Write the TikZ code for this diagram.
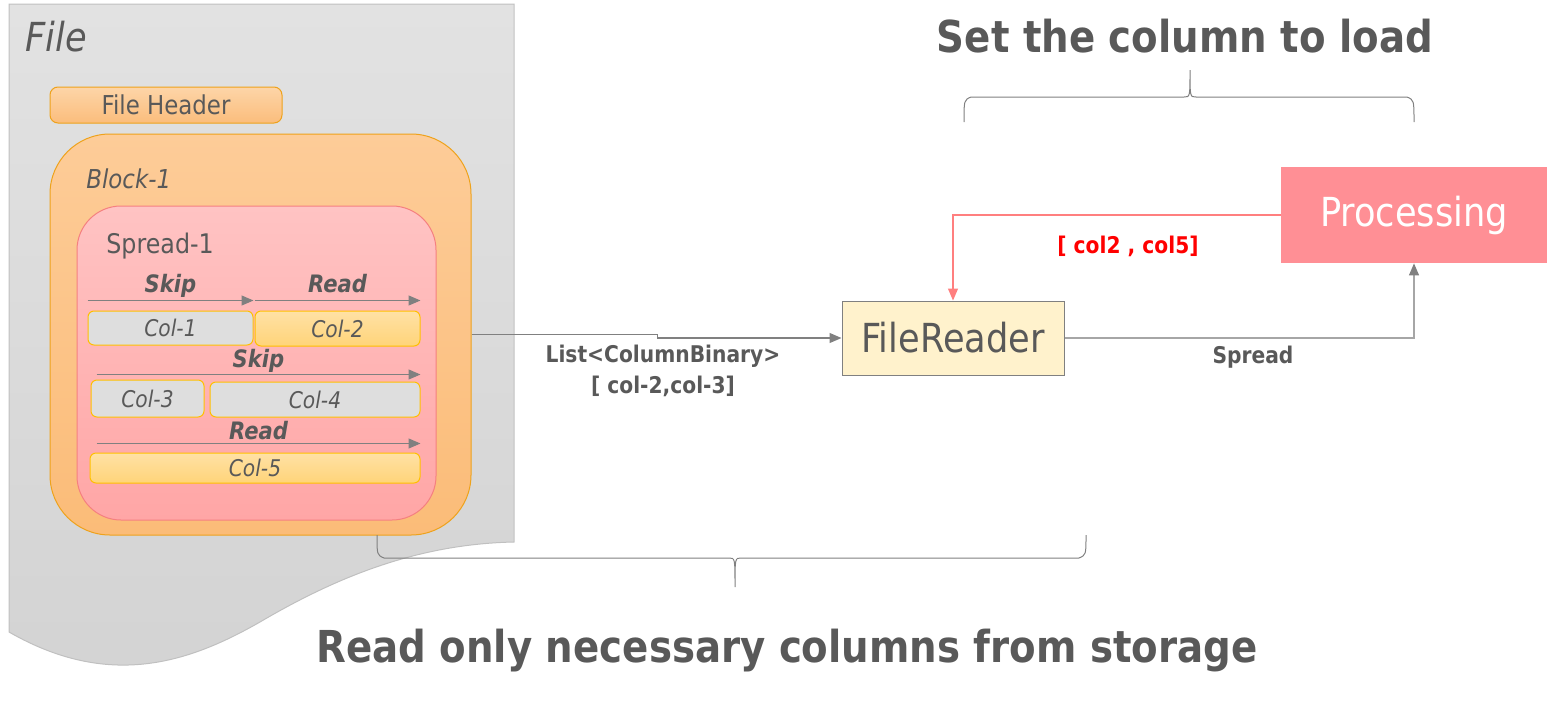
\documentclass[tikz,border=0pt]{standalone}
\usepackage{fontspec}
\setmainfont{DejaVu Sans}[FakeStretch=0.88]
\usetikzlibrary{arrows.meta, positioning}

\definecolor{txtgray}{HTML}{595959}
\definecolor{linegray}{HTML}{808080}
\definecolor{spreadline}{HTML}{A6A6A6}
\definecolor{pinkline}{HTML}{FF7F7F}
\definecolor{selred}{HTML}{FF0000}
\definecolor{filetop}{HTML}{E2E2E2}
\definecolor{filebot}{HTML}{D3D3D3}
\definecolor{fileborder}{HTML}{C0C0C0}
\definecolor{headtop}{HTML}{FDD5A8}
\definecolor{headbot}{HTML}{FBBD7C}
\definecolor{orangeborder}{HTML}{EEA21B}
\definecolor{blocktop}{HTML}{FDCC98}
\definecolor{blockbot}{HTML}{FBBC78}
\definecolor{spreadtop}{HTML}{FFC3C3}
\definecolor{spreadbot}{HTML}{FFA6A6}
\definecolor{spreadborder}{HTML}{F58080}
\definecolor{colborder}{HTML}{FFC000}
\definecolor{colgray}{HTML}{DEDEDE}
\definecolor{colytop}{HTML}{FFE1A5}
\definecolor{colybot}{HTML}{FFD479}
\definecolor{readerfill}{HTML}{FFF2CC}
\definecolor{procfill}{HTML}{FF8F95}

\tikzstyle{lbl} = [text=txtgray, inner sep=0pt]
\tikzstyle{colbox} = [draw=colborder, line width=0.5pt, rounded corners=3pt, inner sep=0pt,
    font=\fontsize{11.5}{12}\selectfont\itshape, text=txtgray]
\tikzstyle{skipcol} = [colbox, fill=colgray]
\tikzstyle{readcol} = [colbox, top color=colytop, bottom color=colybot]
\tikzstyle{seg} = [draw=linegray, line width=0.6pt, -{Triangle[length=6pt,width=5pt]}]
\tikzstyle{seglabel} = [font=\fontsize{12}{12}\selectfont\bfseries\itshape, text=txtgray,
    anchor=base, yshift=4pt, inner sep=0pt]
\tikzstyle{conn} = [draw=linegray, line width=0.6pt, -{Triangle[length=6pt,width=5pt]}]
\tikzstyle{brc} = [draw=linegray, line width=0.5pt]
\tikzstyle{title} = [lbl, font=\fontsize{22}{26}\selectfont\bfseries, anchor=base]
\tikzstyle{small} = [lbl, font=\fontsize{11.5}{15.5}\selectfont\bfseries]

\begin{document}
\begin{tikzpicture}[x=0.5pt, y=-0.5pt]
    \useasboundingbox (0,0) rectangle (1547,702);
    % the file sheet
    \path[draw=fileborder, line width=0.5pt, top color=filetop, bottom color=filebot]
        (9,4) -- (514,4) -- (514,542)
        .. controls (420,544) and (340,575) .. (260,622)
        .. controls (190,662) and (110,690) .. (9,632) -- cycle;
    \node [lbl, anchor=base west, font=\fontsize{20}{24}\selectfont\itshape] (filelbl) at (25,51) {File};
    \node [draw=orangeborder, line width=0.5pt, rounded corners=4pt, top color=headtop, bottom color=headbot,
        minimum width=116pt, minimum height=18pt, inner sep=0pt, text=txtgray,
        font=\fontsize{13}{14}\selectfont] (header) at (166,105) {File Header};
    % block and spread
    \node [draw=orangeborder, line width=0.5pt, rounded corners=30pt, top color=blocktop, bottom color=blockbot,
        minimum width=210.5pt, minimum height=200.5pt] (block) at (260.5,334.5) {};
    \node [lbl, anchor=base west, font=\fontsize{13}{14}\selectfont\itshape] (blocklbl) at (86,188) {Block-1};
    \node [draw=spreadborder, line width=0.5pt, rounded corners=22pt, top color=spreadtop, bottom color=spreadbot,
        minimum width=179.5pt, minimum height=157pt] (spread) at (256.5,363) {};
    \node [lbl, anchor=base west, font=\fontsize{13.5}{14}\selectfont] (spreadlbl) at (106,253) {Spread-1};
    % columns
    \node [skipcol, minimum width=82.5pt, minimum height=17pt] (col1) at (170.5,328) {Col-1};
    \node [readcol, minimum width=82.5pt, minimum height=17.5pt] (col2) at (337.5,328.5) {Col-2};
    \node [skipcol, minimum width=56.5pt, minimum height=18.5pt] (col3) at (147.5,398.5) {Col-3};
    \node [skipcol, minimum width=105pt, minimum height=17.5pt] (col4) at (315,399.5) {Col-4};
    \node [readcol, minimum width=165pt, minimum height=15pt] (col5) at (255,468) {Col-5};
    \draw [seg] ([yshift=5pt]col1.north west) -- ([yshift=5pt]col1.north east) node [midway, seglabel] {Skip};
    \draw [seg] ([yshift=5pt]col2.north west) -- ([yshift=5pt]col2.north east) node [midway, seglabel] {Read};
    \draw [seg] ([xshift=3pt,yshift=2.5pt]col3.north west) -- ([yshift=3.5pt]col4.north east) node [midway, seglabel, yshift=-0.5pt] {Skip};
    \draw [seg] ([xshift=3.5pt,yshift=4.5pt]col5.north west) -- ([yshift=4.5pt]col5.north east) node [midway, seglabel, yshift=-2pt] {Read};
    % reader and processing
    \node [draw=linegray, line width=0.5pt, fill=readerfill, minimum width=111pt, minimum height=37pt,
        text=txtgray, font=\fontsize{20}{24}\selectfont] (reader) at (953,338) {FileReader};
    \node [fill=procfill, minimum width=133pt, minimum height=48pt,
        text=white, font=\fontsize{20}{24}\selectfont] (proc) at (1414,215) {Processing};
    \draw [conn] (block.east) -- ++(93pt,0) |- (reader.west);
    \node [small, align=center] (listlbl) at (663,371) {List<ColumnBinary>\\{[} col-2,col-3]};
    \draw [conn, draw=pinkline] (proc.west) -| (reader.north);
    \node [small, text=selred] (sellbl) at (1128,246) {[ col2 , col5]};
    \draw [conn, draw=spreadline, -{Triangle[length=6pt,width=5pt,color=linegray]}] (reader.east) -| (proc.south);
    \node [small] (spreadout) at (1253,357) {Spread};
    % braces and titles
    \coordinate (settl) at (964,122);
    \coordinate (settr) at (1414,122);
    \coordinate (readl) at (377,535);
    \coordinate (readr) at (1086,535);
    \draw [brc] (settl) .. controls (964,100) .. (971,97) -- (1184,97)
        .. controls (1190,97) .. (1190,70) .. controls (1190,97) .. (1196,97)
        -- (1407,97) .. controls (1414,100) .. (settr);
    \draw [brc] (readr) .. controls (1086,555) .. (1079,558) -- (741,558)
        .. controls (735,558) .. (735,587) .. controls (735,558) .. (729,558)
        -- (384,558) .. controls (377,555) .. (readl);
    \node [title] (settitle) at (1185,52) {Set the column to load};
    \node [title] (readtitle) at (787,662) {Read only necessary columns from storage};
\end{tikzpicture}
\end{document}
